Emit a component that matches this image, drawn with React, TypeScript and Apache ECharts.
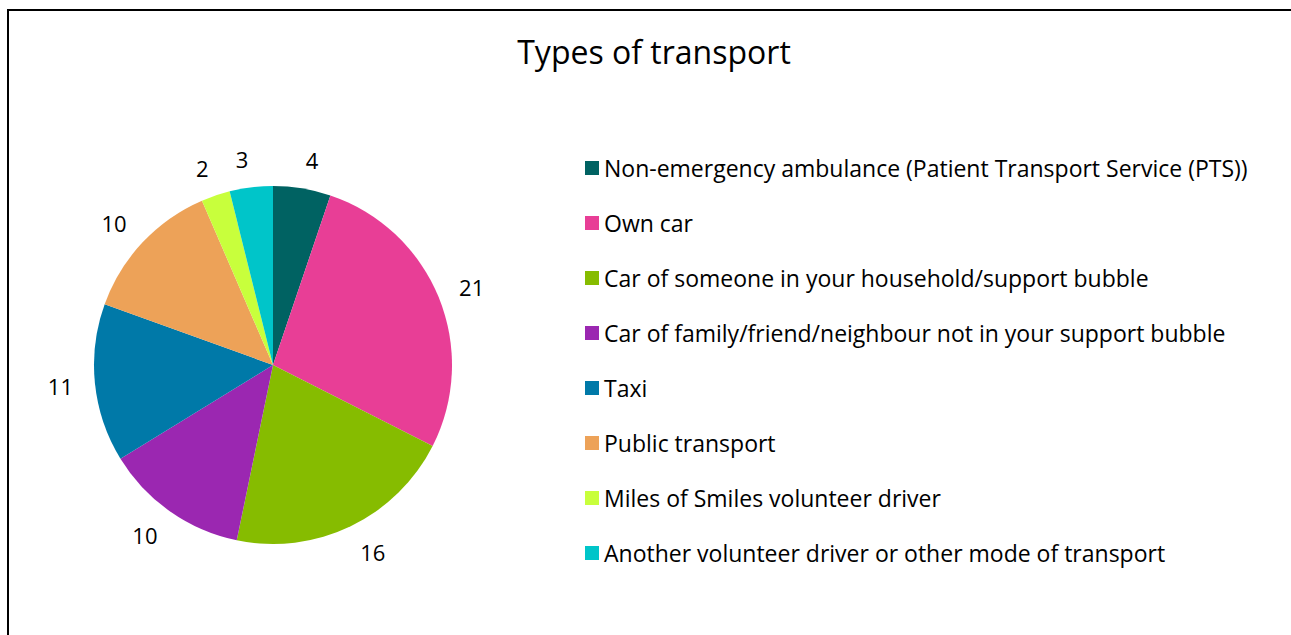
import React, { useEffect, useRef } from "react";
import * as echarts from "echarts";

const categories = [
  "Non-emergency ambulance (Patient Transport Service (PTS))",
  "Own car",
  "Car of someone in your household/support bubble",
  "Car of family/friend/neighbour not in your support bubble",
  "Taxi",
  "Public transport",
  "Miles of Smiles volunteer driver",
  "Another volunteer driver or other mode of transport",
];
const values = [4, 21, 16, 10, 11, 10, 2, 3];
const colors = ["#006262", "#E83E96", "#86BC00", "#9B27B1", "#0079A8", "#EDA258", "#C8FF3C", "#00C5C9"];
const title = "Types of transport";

const FONT = "'Open Sans', sans-serif";
const CX = 273;
const CY = 365;

export default function App() {
  const ref = useRef<HTMLDivElement>(null);
  useEffect(() => {
    if (!ref.current) return;
    const chart = echarts.init(ref.current, null, { renderer: "svg" });
    chart.setOption({
      animation: false,
      backgroundColor: "#ffffff",
      color: colors,
      title: {
        text: title,
        left: 649,
        textAlign: "center",
        top: 30,
        textStyle: { fontFamily: FONT, fontSize: 32, fontWeight: "normal", color: "#000" },
      },
      legend: {
        orient: "vertical",
        left: 580,
        top: 150,
        itemWidth: 14,
        itemHeight: 14,
        itemGap: 29,
        icon: "rect",
        textStyle: { fontFamily: FONT, fontSize: 23, color: "#000", lineHeight: 26 },
        data: categories,
      },
      graphic: [
        { type: "line", shape: { x1: 8, y1: 10, x2: 1291, y2: 10 }, style: { stroke: "#000", lineWidth: 2 } },
        { type: "line", shape: { x1: 8, y1: 9, x2: 8, y2: 635 }, style: { stroke: "#000", lineWidth: 2 } },
      ],
      series: [
        {
          type: "pie",
          center: [CX, CY],
          radius: 179,
          startAngle: 90,
          clockwise: true,
          avoidLabelOverlap: false,
          label: {
            show: true,
            position: "outside",
            formatter: "{c}",
            fontFamily: FONT,
            fontSize: 22,
            color: "#000",
            distanceToLabelLine: 0,
          },
          labelLine: { show: false, length: 22, length2: 0 },
          labelLayout: (params: any) => {
            const r = params.labelRect;
            const mx = r.x + r.width / 2 - CX;
            const my = r.y + r.height / 2 - CY;
            const d = Math.sqrt(mx * mx + my * my) || 1;
            return { dy: (my / d) * 7 };
          },
          itemStyle: { borderWidth: 0 },
          emphasis: { disabled: true },
          data: categories.map((name, i) => ({ name, value: values[i] })),
        },
      ],
    });
    return () => chart.dispose();
  }, []);
  return (
    <div
      ref={ref}
      style={{ position: "absolute", left: 0, top: 0, width: 1291, height: 635 }}
    />
  );
}
